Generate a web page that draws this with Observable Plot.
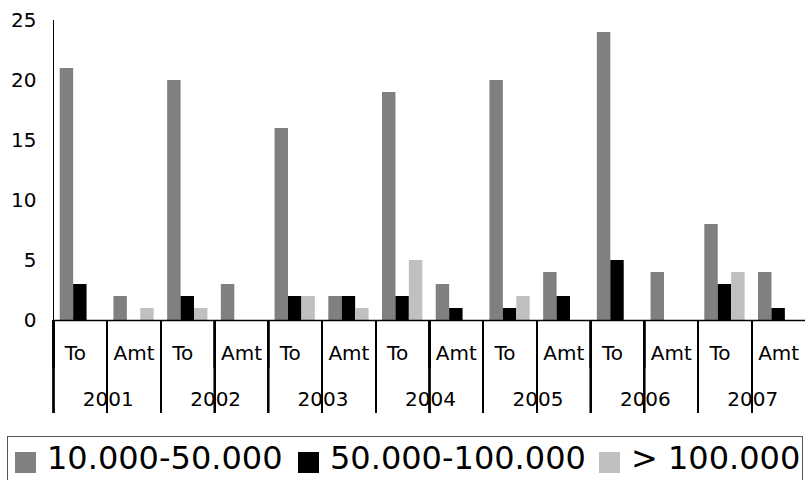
<!DOCTYPE html>
<html>
<head>
<meta charset="utf-8">
<script src="https://cdn.jsdelivr.net/npm/d3@7"></script>
<script src="https://cdn.jsdelivr.net/npm/@observablehq/plot@0.6"></script>
<style>
  html, body { margin: 0; padding: 0; background: #fff; overflow: hidden; }
  #chart { position: absolute; left: 0; top: 0; }
  #legend {
    position: absolute; left: 7px; top: 436px; width: 796px; height: 60px;
    border: 1.5px solid #555; box-sizing: border-box;
    font-family: "DejaVu Sans", sans-serif; font-size: 32px; color: #000;
  }
  .item { position: absolute; top: 0; height: 36px; white-space: nowrap; }
  .sw { position: absolute; left: 0; top: 15px; width: 21px; height: 21px; }
  .lt { position: absolute; left: 32px; bottom: -1px; line-height: 1; letter-spacing: 0px; }
</style>
</head>
<body>
<div id="chart"></div>
<div id="legend"></div>
<script>
const years = ["2001", "2002", "2003", "2004", "2005", "2006", "2007"];
const kinds = ["To", "Amt"];
const seriesNames = ["10.000-50.000", "50.000-100.000", "> 100.000"];
const seriesColors = ["#808080", "#000000", "#c0c0c0"];
// values per subgroup: 2001 To, 2001 Amt, 2002 To, 2002 Amt, ...
const s1 = [21, 2, 20, 3, 16, 2, 19, 3, 20, 4, 24, 4, 8, 4];
const s2 = [3, 0, 2, 0, 2, 2, 2, 1, 1, 2, 5, 0, 3, 1];
const s3 = [0, 1, 1, 0, 2, 1, 5, 0, 2, 0, 0, 0, 4, 0];
const yTicks = [0, 5, 10, 15, 20, 25];

const groups = years.flatMap(y => kinds.map(k => ({year: y, kind: k, key: y + " " + k})));
const values = [s1, s2, s3];
const data = groups.flatMap((g, i) => seriesNames.map((s, j) => ({...g, series: s, value: values[j][i]})));
const toGroups = groups.filter(g => g.kind === "To");
const amtGroups = groups.filter(g => g.kind === "Amt");

const W = 806, H = 420, ML = 53, MR = 1, MT = 20, MB = 100;
const step = (W - ML - MR) / groups.length;

const chart = Plot.plot({
  width: W, height: H,
  marginLeft: ML, marginRight: MR, marginTop: MT, marginBottom: MB,
  style: {fontFamily: "DejaVu Sans", fontSize: "20px", color: "#000", background: "#fff"},
  fx: {domain: groups.map(g => g.key), padding: 0, round: false, label: null},
  x: {domain: seriesNames, paddingInner: 0, paddingOuter: 0.5, round: false, axis: null},
  y: {domain: [0, 25], ticks: yTicks, tickSize: 0, tickPadding: 17, label: null, line: true},
  color: {domain: seriesNames, range: seriesColors},
  marks: [
    Plot.barY(data, {fx: "key", x: "series", y: "value", fill: "series", insetLeft: 0, insetRight: 0}),
    Plot.ruleY([0], {strokeWidth: 1.5}),
    Plot.axisFx(amtGroups.map(g => g.key), {anchor: "bottom", tickSize: 48, dx: -step / 2, tickFormat: () => "", label: null, strokeWidth: 1.5}),
    Plot.axisFx(toGroups.map(g => g.key), {anchor: "bottom", tickSize: 93, dx: -step / 2, tickFormat: () => "", label: null, strokeWidth: 1.5}),
    Plot.text(toGroups, {fx: "key", frameAnchor: "bottom", dx: -5, dy: 33, text: "kind", lineAnchor: "middle", fontSize: 20}),
    Plot.text(amtGroups, {fx: "key", frameAnchor: "bottom", dy: 33, text: "kind", lineAnchor: "middle", fontSize: 20}),
    Plot.text(toGroups, {fx: "key", frameAnchor: "bottom-right", dx: 1, dy: 79, text: "year", textAnchor: "middle", lineAnchor: "middle", fontSize: 20})
  ]
});
document.getElementById("chart").appendChild(chart);

const legend = document.getElementById("legend");
const itemLeft = [7, 290, 591];
seriesNames.forEach((s, i) => {
  const item = document.createElement("div");
  item.className = "item";
  item.style.left = itemLeft[i] + "px";
  const sw = document.createElement("span");
  sw.className = "sw";
  sw.style.background = seriesColors[i];
  const t = document.createElement("span");
  t.className = "lt";
  t.textContent = s;
  item.appendChild(sw);
  item.appendChild(t);
  legend.appendChild(item);
});
</script>
</body>
</html>
